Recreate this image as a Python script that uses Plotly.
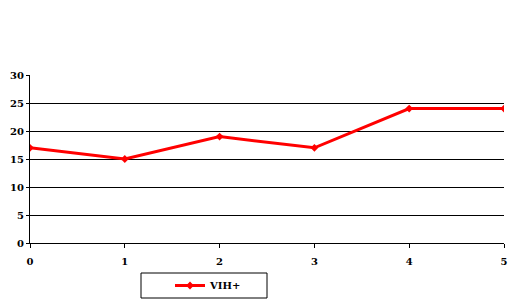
import plotly.graph_objects as go

x_vals = [0, 1, 2, 3, 4, 5]
vih_plus = [17, 15, 19, 17, 24, 24]
series_name = "VIH+"
y_ticks = [0, 5, 10, 15, 20, 25, 30]

W, H = 516, 304
L, R, T, B = 30, 12, 75, 61
PW, PH = W - L - R, H - T - B

fig = go.Figure()
fig.add_trace(go.Scatter(
    x=x_vals, y=vih_plus, name=series_name, mode="lines+markers",
    line=dict(color="#ff0000", width=3),
    marker=dict(symbol="diamond", size=6, color="#ff0000"),
))

font = dict(family="DejaVu Serif, serif", size=10, color="black", weight="bold")

# legend frame
fig.add_shape(type="rect", xref="paper", yref="paper",
              x0=(141 - L) / PW, x1=(267 - L) / PW,
              y0=((H - B) - 298) / PH, y1=((H - B) - 273) / PH,
              line=dict(color="black", width=1), fillcolor="rgba(0,0,0,0)")

fig.update_layout(
    width=W, height=H, margin=dict(l=L, r=R, t=T, b=B, autoexpand=False),
    paper_bgcolor="white", plot_bgcolor="white",
    font=font,
    showlegend=True,
    legend=dict(
        xref="container", yref="container",
        x=170 / W, y=(H - 271) / H,
        xanchor="left", yanchor="top",
        borderwidth=0, bgcolor="rgba(0,0,0,0)",
        font=font, itemwidth=30, tracegroupgap=0,
    ),
    xaxis=dict(
        range=[0, 5], tickvals=x_vals, showgrid=False, zeroline=False,
        showline=True, linecolor="black", linewidth=1, automargin=False,
        ticks="outside", ticklen=4, tickcolor="black", tickfont=font,
        ticklabelstandoff=5,
    ),
    yaxis=dict(
        range=[0, 30], tickvals=y_ticks, showgrid=True, gridcolor="black", gridwidth=1,
        zeroline=False, showline=True, linecolor="black", linewidth=1, automargin=False,
        ticks="outside", ticklen=3, tickcolor="black", tickfont=font,
    ),
)

fig.write_html("out.html")
